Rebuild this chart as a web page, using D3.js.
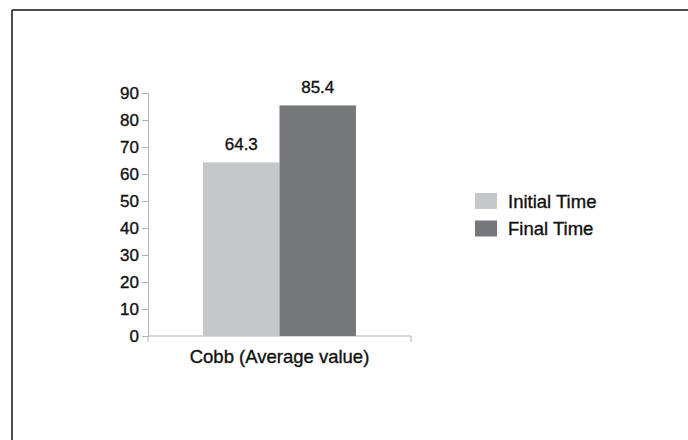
<!DOCTYPE html>
<html>
<head>
<meta charset="utf-8">
<script src="https://cdn.jsdelivr.net/npm/d3@7/dist/d3.min.js"></script>
<style>
  html, body { margin: 0; padding: 0; background: #fff; }
  svg { display: block; font-family: "Liberation Sans", Arial, Helvetica, sans-serif; }
  svg text { stroke: #111; stroke-width: 0.35px; }
</style>
</head>
<body>
<svg id="chart" width="688" height="440"></svg>
<script>
// Chart data
const categories = ["Cobb (Average value)"];
const seriesNames = ["Initial Time", "Final Time"];
const seriesValues = [64.3, 85.4];
const seriesColors = ["#c6c7c9", "#76777a"];
const yTicks = [0, 10, 20, 30, 40, 50, 60, 70, 80, 90];

const svg = d3.select("#chart");
const textColor = "#111";

// Frame lines (top and left)
svg.append("line").attr("x1", 12).attr("x2", 688).attr("y1", 10).attr("y2", 10)
  .attr("stroke", "#111").attr("stroke-width", 1.5);
svg.append("line").attr("x1", 12).attr("x2", 12).attr("y1", 10).attr("y2", 440)
  .attr("stroke", "#111").attr("stroke-width", 1.5);

const plot = { left: 148, right: 411, top: 93, bottom: 336 };

const x = d3.scaleBand().domain(categories).range([plot.left, plot.right]);
const y = d3.scaleLinear().domain([0, 90]).range([plot.bottom, plot.top]);

// Each category band holds the two series side by side
const inner = d3.scaleBand().domain(seriesNames)
  .range([0, x.bandwidth()]).paddingOuter(0.72).paddingInner(0);

const axisColor = "#b3b3b3";

// Y axis
const yAxis = svg.append("g").attr("transform", `translate(${plot.left},0)`)
  .call(d3.axisLeft(y).tickValues(yTicks).tickSize(6).tickPadding(3));
yAxis.select(".domain").attr("stroke", axisColor);
yAxis.selectAll(".tick line").attr("stroke", axisColor);
yAxis.selectAll(".tick text").attr("fill", textColor).style("font-size", "17px");

// X axis
const xAxis = svg.append("g").attr("transform", `translate(0,${plot.bottom})`)
  .call(d3.axisBottom(x).tickSize(0).tickPadding(14));
xAxis.select(".domain").attr("stroke", axisColor).attr("d", `M${plot.left},6V0H${plot.right}V6`);
xAxis.selectAll(".tick text").attr("fill", textColor).style("font-size", "18.5px");

// Bars
const group = svg.append("g").attr("transform", `translate(${x(categories[0])},0)`);
group.selectAll("rect").data(seriesValues).join("rect")
  .attr("x", (d, i) => inner(seriesNames[i]))
  .attr("width", inner.bandwidth())
  .attr("y", d => y(d))
  .attr("height", d => y(0) - y(d))
  .attr("fill", (d, i) => seriesColors[i]);

// Value labels
group.selectAll("text.value").data(seriesValues).join("text")
  .attr("class", "value")
  .attr("x", (d, i) => inner(seriesNames[i]) + inner.bandwidth() / 2)
  .attr("y", d => y(d) - 12.5)
  .attr("text-anchor", "middle")
  .attr("fill", textColor)
  .style("font-size", "17px")
  .text(d => d.toFixed(1));

// Legend
const legend = svg.append("g").attr("transform", "translate(475,193)");
const items = legend.selectAll("g").data(seriesNames).join("g")
  .attr("transform", (d, i) => `translate(0,${i * 27.5})`);
items.append("rect").attr("width", 22).attr("height", 16)
  .attr("fill", (d, i) => seriesColors[i]);
items.append("text").attr("x", 33).attr("y", 14.5)
  .attr("fill", textColor).style("font-size", "18.5px").text(d => d);
</script>
</body>
</html>
